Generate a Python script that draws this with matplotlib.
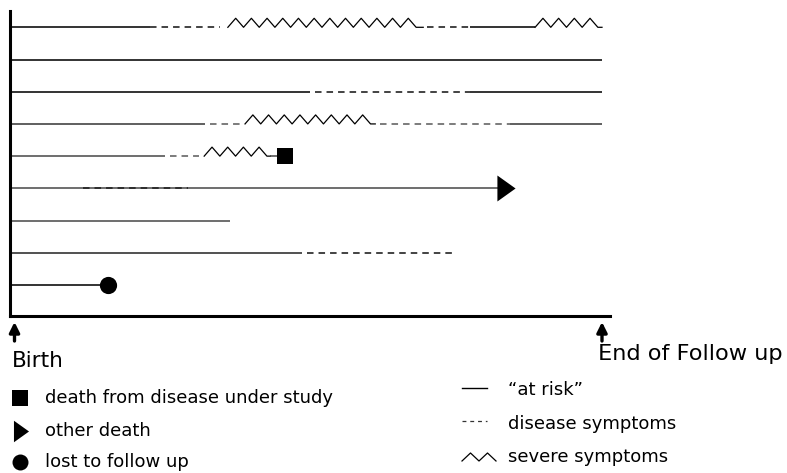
import matplotlib
matplotlib.use('Agg')
import matplotlib.pyplot as plt
import numpy as np

plt.rcParams['font.family'] = ['DejaVu Sans']
plt.rcParams['lines.scale_dashes'] = False

# ---- data: follow-up time (0 = birth, 100 = end of follow-up) ----
row1 = [('risk', 0, 23.6), ('symptoms', 23.6, 35.5), ('severe', 36.8, 69.8),
        ('symptoms', 70.5, 77.7), ('risk', 77.7, 88.7), ('severe', 88.7, 100)]
row2 = [('risk', 0, 100)]
row3 = [('risk', 0, 50.7), ('symptoms', 51.5, 77.7), ('risk', 77.7, 100)]
row4 = [('risk', 0, 33.0), ('symptoms', 33.8, 38.8), ('severe', 39.7, 61.7),
        ('symptoms', 62.5, 84.5), ('risk', 84.5, 100)]
row5 = [('risk', 0, 26.2), ('symptoms', 27.0, 32.0), ('severe', 32.8, 43.9),
        ('risk', 43.9, 46.5)]
row6 = [('risk', 0, 83.8), ('symptoms', 12.3, 30.1)]
row7 = [('risk', 0, 37.2)]
row8 = [('risk', 0, 49.3), ('symptoms', 50.2, 75.2)]
row9 = [('risk', 0, 16.6)]
subjects = [row1, row2, row3, row4, row5, row6, row7, row8, row9]

end_kind = [None, None, None, None, 'disease_death', 'other_death', None, None, 'lost']
end_time = [None, None, None, None, 46.5, 83.8, None, None, 16.6]

row_colors = ['#111111', '#111111', '#111111', '#444444', '#555555',
              '#555555', '#555555', '#333333', '#111111']

legend_markers = ['death from disease under study', 'other death', 'lost to follow up']
legend_lines = ['\u201cat risk\u201d', 'disease symptoms', 'severe symptoms']

# ---- figure ----
W, H = 787, 473
fig = plt.figure(figsize=(W / 100, H / 100), dpi=100)
ax = fig.add_axes([10 / W, 1 - 316 / H, 600 / W, 305 / H])
ax.set_xlim(0, 600 / 5.92)
ax.set_ylim(9.963, 0.494)
for s in ['top', 'right']:
    ax.spines[s].set_visible(False)
for s in ['left', 'bottom']:
    ax.spines[s].set_linewidth(2.2)
    ax.spines[s].set_color('black')
ax.set_xticks([])
ax.set_yticks([])

PERIOD = 2.65   # x units
AMP = 0.28      # y units
DASH = (4.7, 3.6)

tri_verts = [(-0.7, -1.0), (0.7, 0.0), (-0.7, 1.0), (-0.7, -1.0)]


def zigzag(t0, t1, y):
    xs, ys = [t0], [y]
    k = 1
    while t0 + k * PERIOD / 2 < t1:
        xs.append(t0 + k * PERIOD / 2)
        ys.append(y - AMP if k % 2 == 1 else y)
        k += 1
    xs.append(t1)
    ys.append(y)
    return xs, ys


for i, segs in enumerate(subjects):
    y = i + 1
    col = row_colors[i]
    for kind, t0, t1 in segs:
        if kind == 'risk':
            ax.plot([t0, t1], [y, y], color=col, lw=1.2, solid_capstyle='butt', zorder=2)
        elif kind == 'symptoms':
            ax.plot([t0, t1], [y, y], color='#222222' if i in (0, 2, 5, 7) else '#666666',
                    lw=1.2, dashes=DASH, zorder=3)
        else:
            xs, ys = zigzag(t0, t1, y)
            ax.plot(xs, ys, color='black', lw=0.9, zorder=3)
    if end_kind[i] == 'disease_death':
        ax.plot([end_time[i]], [y], marker='s', ms=12.2, color='black', mew=0, zorder=4)
    elif end_kind[i] == 'other_death':
        ax.plot([end_time[i]], [y], marker=tri_verts, ms=18.7, color='black', mew=0, zorder=4)
    elif end_kind[i] == 'lost':
        ax.plot([end_time[i]], [y], marker='o', ms=12.4, color='black', mew=0, zorder=4)

# ---- overlay in pixel coordinates for labels / legend ----
lax = fig.add_axes([0, 0, 1, 1], facecolor='none')
lax.set_xlim(0, W)
lax.set_ylim(H, 0)
lax.axis('off')

for xa in (14.5, 602):
    lax.annotate('', xy=(xa, 322), xytext=(xa, 341),
                 arrowprops=dict(arrowstyle='-|>,head_length=0.6,head_width=0.3',
                                 color='black', lw=2.4, shrinkA=0, shrinkB=0))

lax.text(12, 367, 'Birth', fontsize=15.5, ha='left', va='baseline')
lax.text(783, 360, 'End of Follow up', fontsize=16.2, ha='right', va='baseline')

# left legend (markers)
lx_sym, lx_txt = 20, 45
ly = [398, 431, 462]
lax.plot([lx_sym], [ly[0]], marker='s', ms=11.5, color='black', mew=0)
lax.plot([lx_sym + 1], [ly[1]], marker=tri_verts, ms=15.5, color='black', mew=0)
lax.plot([lx_sym], [ly[2]], marker='o', ms=11.5, color='black', mew=0)
for yy, lab in zip(ly, legend_markers):
    lax.text(lx_txt, yy, lab, fontsize=13, ha='left', va='center')

# right legend (line styles)
rx0, rx1, rx_txt = 462, 487, 508
ry = [390, 424, 457]
lax.plot([rx0, rx1], [388, 388], color='black', lw=1.0)
lax.plot([rx0, rx1], [421, 421], color='#333333', lw=0.9, dashes=(2.8, 2.8))
zx = [rx0, rx0 + 8.5, rx0 + 17, rx0 + 25.5, rx0 + 34]
zy = [461, 453, 461, 453, 461]
lax.plot(zx, zy, color='black', lw=0.9)
for yy, lab in zip(ry, legend_lines):
    lax.text(rx_txt, yy, lab, fontsize=13, ha='left', va='center')

fig.savefig('out.png', dpi=100, facecolor='white')
